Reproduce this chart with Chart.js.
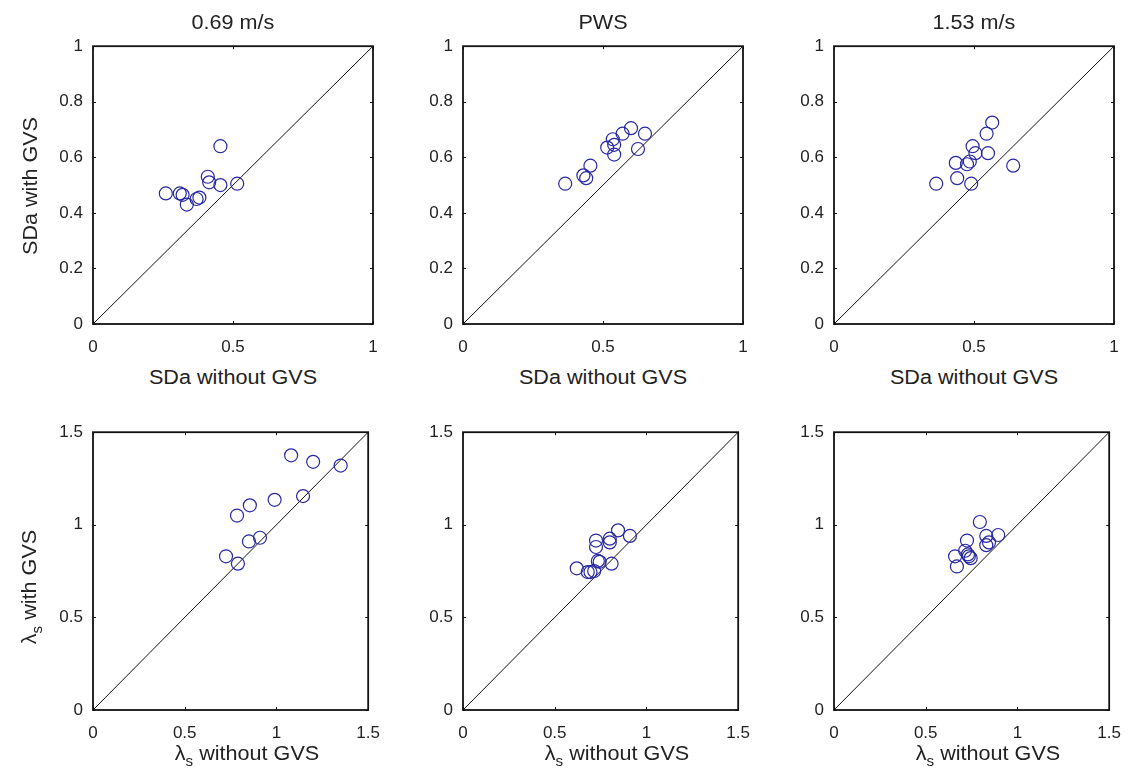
<!DOCTYPE html>
<html>
<head>
<meta charset="utf-8">
<script src="https://cdn.jsdelivr.net/npm/chart.js@4/dist/chart.umd.min.js"></script>
<style>
  body { margin: 0; background: #fff; width: 1128px; height: 774px; position: relative; overflow: hidden;
         font-family: "Liberation Sans", Arial, sans-serif; color: #222; }
  canvas { position: absolute; }
  .lbl { position: absolute; white-space: nowrap; transform: translate(-50%, -50%) scaleX(1.08); font-size: 20px; }
  .rot { transform: translate(-50%, -50%) rotate(-90deg) scaleX(1.08); }
  .lbl sub { font-size: 14px; vertical-align: -6px; }
</style>
</head>
<body>
<script>
// column titles and axis labels
const columnTitles = ['0.69 m/s', 'PWS', '1.53 m/s'];

// tick labels
const sdaTicks = [0, 0.2, 0.4, 0.6, 0.8, 1];
const sdaXTicks = [0, 0.5, 1];
const lambdaTicks = [0, 0.5, 1, 1.5];

// identity lines
const sdaLine = [0, 1];
const lambdaLine = [0, 1.5];

// SDa, 0.69 m/s
const sdaWithout069 = [0.26, 0.31, 0.32, 0.335, 0.37, 0.38, 0.41, 0.415, 0.455, 0.455, 0.515];
const sdaWith069    = [0.47, 0.47, 0.465, 0.43, 0.45, 0.455, 0.53, 0.51, 0.64, 0.50, 0.505];
// SDa, PWS
const sdaWithoutPWS = [0.365, 0.43, 0.44, 0.455, 0.515, 0.535, 0.54, 0.54, 0.57, 0.60, 0.625, 0.65];
const sdaWithPWS    = [0.505, 0.535, 0.525, 0.57, 0.635, 0.665, 0.645, 0.61, 0.685, 0.705, 0.63, 0.685];
// SDa, 1.53 m/s
const sdaWithout153 = [0.365, 0.435, 0.44, 0.475, 0.485, 0.49, 0.495, 0.505, 0.545, 0.55, 0.565, 0.64];
const sdaWith153    = [0.505, 0.58, 0.525, 0.575, 0.585, 0.505, 0.64, 0.615, 0.685, 0.615, 0.725, 0.57];

// lambda_s, 0.69 m/s
const lamWithout069 = [0.725, 0.79, 0.785, 0.85, 0.855, 0.91, 0.99, 1.08, 1.145, 1.20, 1.35];
const lamWith069    = [0.83, 0.79, 1.05, 0.91, 1.105, 0.93, 1.135, 1.375, 1.155, 1.34, 1.32];
// lambda_s, PWS
const lamWithoutPWS = [0.62, 0.68, 0.695, 0.715, 0.725, 0.725, 0.735, 0.745, 0.80, 0.80, 0.81, 0.845, 0.91];
const lamWithPWS    = [0.765, 0.745, 0.745, 0.75, 0.915, 0.88, 0.805, 0.80, 0.925, 0.905, 0.79, 0.97, 0.94];
// lambda_s, 1.53 m/s
const lamWithout153 = [0.66, 0.67, 0.715, 0.725, 0.73, 0.735, 0.745, 0.795, 0.83, 0.83, 0.845, 0.895];
const lamWith153    = [0.83, 0.775, 0.86, 0.915, 0.84, 0.83, 0.82, 1.015, 0.89, 0.94, 0.905, 0.945];

const colX = [93, 463, 834];
const rowY = [46, 432];
const plotW = 280, plotH = 278;
const padL = 60, padT = 20, padR = 20, padB = 40;
const markerColor = 'rgb(40, 40, 160)';

// box + inward tick marks, MATLAB style
const boxPlugin = {
    id: 'box',
    afterDatasetsDraw(chart) {
        const { ctx, chartArea: a, scales } = chart;
        ctx.save();
        ctx.strokeStyle = '#111';
        ctx.lineWidth = 1;
        ctx.beginPath();
        scales.x.ticks.forEach(t => {
            const px = Math.round(scales.x.getPixelForValue(t.value)) + 0.5;
            ctx.moveTo(px, a.bottom); ctx.lineTo(px, a.bottom - 3);
            ctx.moveTo(px, a.top); ctx.lineTo(px, a.top + 3);
        });
        scales.y.ticks.forEach(t => {
            const py = Math.round(scales.y.getPixelForValue(t.value)) + 0.5;
            ctx.moveTo(a.left, py); ctx.lineTo(a.left + 3, py);
            ctx.moveTo(a.right, py); ctx.lineTo(a.right - 3, py);
        });
        ctx.stroke();
        ctx.lineWidth = 1.8;
        ctx.strokeRect(a.left, a.top, a.right - a.left, a.bottom - a.top);
        ctx.restore();
    }
};

function makeScatter(col, row, xs, ys, line, xTicks, yTicks, max) {
    const canvas = document.createElement('canvas');
    canvas.width = plotW + padL + padR;
    canvas.height = plotH + padT + padB;
    canvas.style.left = (colX[col] - padL) + 'px';
    canvas.style.top = (rowY[row] - padT) + 'px';
    document.body.appendChild(canvas);

    const tickFont = { family: '"Liberation Sans", Arial, sans-serif', size: 17 };

    return new Chart(canvas.getContext('2d'), {
        type: 'scatter',
        data: {
            datasets: [{
                data: xs.map((x, i) => ({ x: x, y: ys[i] })),
                pointStyle: 'circle',
                pointRadius: 6.5,
                pointBorderWidth: 1.2,
                pointBorderColor: markerColor,
                pointBackgroundColor: 'rgba(0,0,0,0)'
            }, {
                type: 'line',
                data: line.map(v => ({ x: v, y: v })),
                borderColor: '#111',
                borderWidth: 1,
                pointRadius: 0,
                fill: false
            }]
        },
        options: {
            responsive: false,
            animation: false,
            events: [],
            layout: { padding: { left: 0, top: padT, right: padR, bottom: 0 } },
            plugins: { legend: { display: false }, tooltip: { enabled: false } },
            scales: {
                x: {
                    type: 'linear', min: 0, max: max,
                    grid: { display: false, drawTicks: false },
                    border: { display: false },
                    afterBuildTicks: s => { s.ticks = xTicks.map(v => ({ value: v })); },
                    afterFit: s => { s.height = padB; },
                    ticks: { color: '#222', font: tickFont, padding: 13, maxRotation: 0,
                             callback: v => String(v) }
                },
                y: {
                    type: 'linear', min: 0, max: max,
                    grid: { display: false, drawTicks: false },
                    border: { display: false },
                    afterBuildTicks: s => { s.ticks = yTicks.map(v => ({ value: v })); },
                    afterFit: s => { s.width = padL; },
                    ticks: { color: '#222', font: tickFont, padding: 10,
                             callback: v => String(v) }
                }
            }
        },
        plugins: [boxPlugin]
    });
}

makeScatter(0, 0, sdaWithout069, sdaWith069, sdaLine, sdaXTicks, sdaTicks, 1);
makeScatter(1, 0, sdaWithoutPWS, sdaWithPWS, sdaLine, sdaXTicks, sdaTicks, 1);
makeScatter(2, 0, sdaWithout153, sdaWith153, sdaLine, sdaXTicks, sdaTicks, 1);
makeScatter(0, 1, lamWithout069, lamWith069, lambdaLine, lambdaTicks, lambdaTicks, 1.5);
makeScatter(1, 1, lamWithoutPWS, lamWithPWS, lambdaLine, lambdaTicks, lambdaTicks, 1.5);
makeScatter(2, 1, lamWithout153, lamWith153, lambdaLine, lambdaTicks, lambdaTicks, 1.5);

function addLabel(html, x, y, rotate) {
    const d = document.createElement('div');
    d.className = 'lbl' + (rotate ? ' rot' : '');
    d.innerHTML = html;
    d.style.left = x + 'px';
    d.style.top = y + 'px';
    document.body.appendChild(d);
}

columnTitles.forEach((t, i) => addLabel(t, colX[i] + plotW / 2, 22));
colX.forEach(x => {
    addLabel('SDa without GVS', x + plotW / 2, 377);
    addLabel('&lambda;<sub>s</sub> without GVS', x + plotW / 2 + 14, 755);
});
addLabel('SDa with GVS', 30, 186, true);
addLabel('&lambda;<sub>s</sub> with GVS', 31, 587, true);
</script>
</body>
</html>
